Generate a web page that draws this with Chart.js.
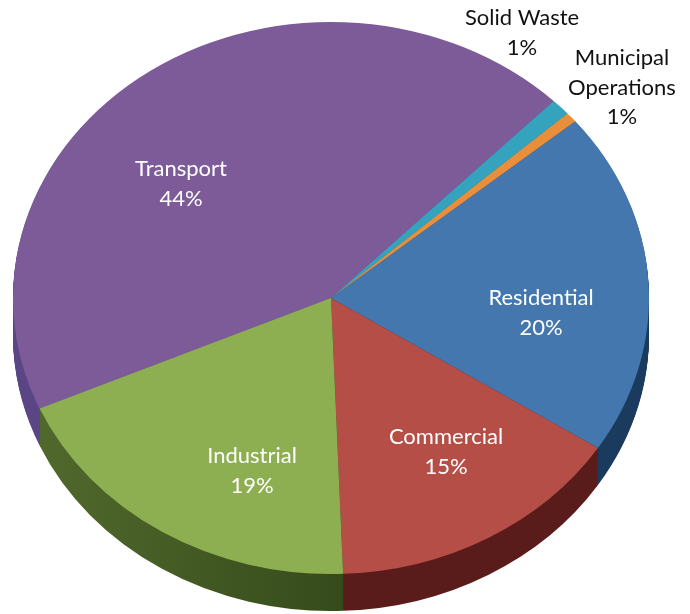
<!DOCTYPE html>
<html>
<head>
<meta charset="utf-8">
<style>
  html, body { margin: 0; padding: 0; background: #fff; }
  #wrap { position: relative; width: 690px; height: 614px; }
</style>
<script src="https://cdn.jsdelivr.net/npm/chart.js@4"></script>
</head>
<body>
<div id="wrap"><canvas id="chart" width="690" height="614"></canvas></div>
<script>
const categories = ['Transport', 'Solid Waste', 'Municipal Operations', 'Residential', 'Commercial', 'Industrial']
// slice sizes as drawn in the picture; the printed labels are rounded
const shares = [43.9, 1.0, 0.6, 20.2, 15.25, 19.05]
const printedShares = ['44%', '1%', '1%', '20%', '15%', '19%']
const labelLines = [['Transport'], ['Solid Waste'], ['Municipal', 'Operations'], ['Residential'], ['Commercial'], ['Industrial']]
const topColors = ['#7d5b98', '#35a3bd', '#e98f3c', '#4377ad', '#b44e47', '#8eae52']
const sideLeft = ['#5a4585', '#1f6a7c', '#9c5a1c', '#1a3a5e', '#4e1518', '#50682c']
const sideRight = ['#5a4585', '#1f6a7c', '#9c5a1c', '#1a3a5e', '#5a1c1a', '#34491a']
const labelColors = ['#ffffff', '#111111', '#111111', '#ffffff', '#ffffff', '#ffffff']

// where each label's first line is centred, in page pixels
const labelAnchors = [[181, 169], [522, 18], [622, 58], [541, 298], [446, 437], [252, 456]]
const lineHeight = 29.5

// the tilted look: chart.js draws a circle, we squash it sideways and stack darker copies under it
const centerX = 331
const stretchX = 318 / 276
const depth = 37

const tiltPlugin = {
  id: 'tilt',
  beforeDatasetsDraw(chart) {
    const ctx = chart.ctx
    const arcs = chart.getDatasetMeta(0).data
    const cx = arcs[0].x
    const r = arcs[0].outerRadius
    const fills = arcs.map((arc, i) => {
      const g = ctx.createLinearGradient(cx - r * 0.9, 0, cx + r * 0.1, 0)
      g.addColorStop(0, sideLeft[i])
      g.addColorStop(1, sideRight[i])
      return g
    })
    ctx.save()
    ctx.translate(centerX, 0)
    ctx.scale(stretchX, 1)
    ctx.translate(-cx, 0)
    for (let d = depth; d > 0; d--) {
      ctx.save()
      ctx.translate(0, d)
      arcs.forEach((arc, i) => {
        const real = arc.options
        const side = Object.create(real)
        side.backgroundColor = fills[i]
        arc.options = side
        arc.draw(ctx)
        arc.options = real
      })
      ctx.restore()
    }
  },
  afterDatasetsDraw(chart) {
    const ctx = chart.ctx
    ctx.restore()
    ctx.font = '22px Lato'
    ctx.textAlign = 'center'
    ctx.textBaseline = 'middle'
    categories.forEach((name, i) => {
      const [x, y] = labelAnchors[i]
      ctx.fillStyle = labelColors[i]
      const lines = [...labelLines[i], printedShares[i]]
      lines.forEach((line, n) => ctx.fillText(line, x, y + n * lineHeight))
    })
  },
}

new Chart(document.getElementById('chart'), {
  type: 'pie',
  data: {
    labels: categories,
    datasets: [{
      data: shares,
      backgroundColor: topColors,
      borderWidth: 0,
      clip: false,
    }],
  },
  options: {
    responsive: false,
    animation: false,
    rotation: 246.4,
    layout: { padding: { top: 22, bottom: 40, left: 69, right: 69 } },
    plugins: {
      legend: { display: false },
      tooltip: { enabled: false },
    },
  },
  plugins: [tiltPlugin],
})
</script>
</body>
</html>
